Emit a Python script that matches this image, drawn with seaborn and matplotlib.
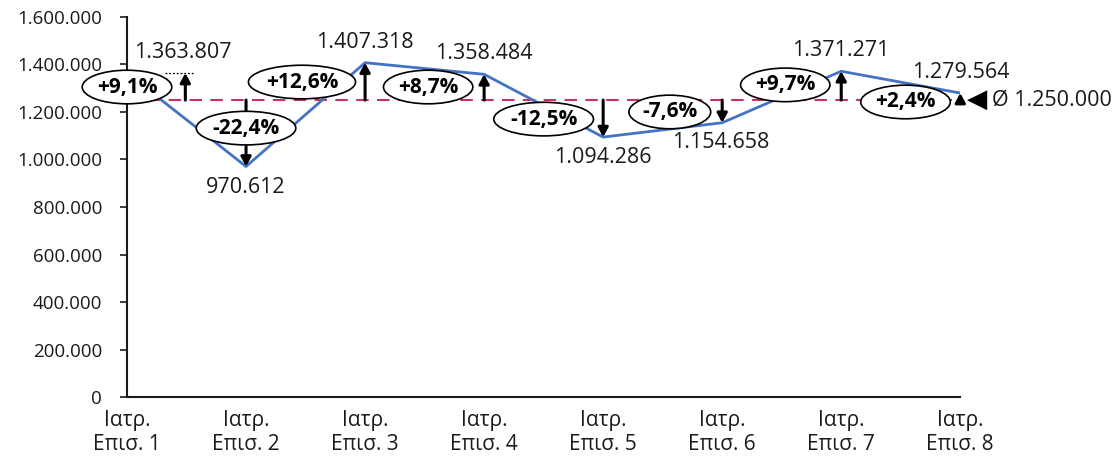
import numpy as np
import pandas as pd
import matplotlib
matplotlib.use("Agg")
import matplotlib.pyplot as plt
from matplotlib.path import Path
from matplotlib.transforms import Affine2D
from matplotlib.ticker import FuncFormatter
import seaborn as sns

# --- data -------------------------------------------------------------
categories = [f"Ιατρ.\nΕπισ. {i}" for i in range(1, 9)]
values = [1363807, 970612, 1407318, 1358484, 1094286, 1154658, 1371271, 1279564]
average = 1250000
y_ticks = [0, 200000, 400000, 600000, 800000, 1000000, 1200000, 1400000, 1600000]

# --- layout -----------------------------------------------------------
# centre of each percentage badge (x in category units, y in value units)
badge_pos = [(0.0, 1305000), (1.0, 1132000), (1.47, 1326000), (2.53, 1305000),
             (3.50, 1170000), (4.56, 1200000), (5.53, 1314000), (6.54, 1242000)]
# x of each deviation arrow (first one moved aside, next to its badge)
arrow_x = [0.49, 1, 2, 3, 4, 5, 6, 7]
# offsets (points) of the value labels relative to their data point
label_off = [(40, 14.5), (0, -15), (0, 14.5), (0, 15), (0, -14.5), (-1, -14.5), (0, 15), (0, 15)]

sns.set_style("ticks")
plt.rcParams["font.family"] = ["Open Sans", "DejaVu Sans"]
FS_Y = 13.5
FS_X = 15
FS_LBL = 15.5
FS_BADGE = 15


def wide_ellipse(x0, y0, width, height, mutation_size):
    """Ellipse around a text box, wider than tall (badge outline)."""
    rx = width * 0.74
    ry = height * 0.80
    cx, cy = x0 + width / 2, y0 + height / 2
    return Path.unit_circle().transformed(Affine2D().scale(rx, ry).translate(cx, cy))


fig = plt.figure(figsize=(11.14, 4.57), dpi=100)
ax = fig.add_axes([0.114, 0.131, 0.748, 0.832])

df = pd.DataFrame({"cat": categories, "value": values})

# average reference line
ax.plot([0, len(categories) - 1], [average, average], color="#C8325F", lw=1.5,
        dashes=(6, 4), zorder=1.5)

sns.lineplot(data=df, x="cat", y="value", ax=ax, color="#4472C4", lw=2,
             sort=False, zorder=2)

# deviation arrows from the average to each value
for xa, v in zip(arrow_x, values):
    ax.annotate("", xy=(xa, v), xytext=(xa, average),
                arrowprops=dict(arrowstyle="-|>,head_length=0.55,head_width=0.3",
                                color="black", lw=2.2, shrinkA=0, shrinkB=0),
                zorder=3)

# dotted guide from the first point to its shifted arrow
ax.plot([0.32, 0.57], [values[0], values[0]], color="black", lw=0.9,
        ls=(0, (1.5, 1.5)), zorder=3)

# value labels
for i, v in enumerate(values):
    txt = f"{v:,.0f}".replace(",", ".")
    dx, dy = label_off[i]
    ax.annotate(txt, xy=(i, v), xytext=(dx, dy), textcoords="offset points",
                ha="center", va="center", fontsize=FS_LBL, color="#1a1a1a", zorder=4)

# percentage badges
for (bx, by), v in zip(badge_pos, values):
    pct = (v / average - 1) * 100
    txt = f"{pct:+.1f}%".replace(".", ",")
    ax.text(bx, by, txt, ha="center", va="center", fontsize=FS_BADGE, fontweight="bold",
            color="black", zorder=6,
            bbox=dict(boxstyle=wide_ellipse, fc="white", ec="black", lw=1.2))

# average annotation at the right end
last = len(categories) - 1
ax.annotate("◀", xy=(last, average), xytext=(5, 0), textcoords="offset points",
            ha="left", va="center", fontsize=19, color="black",
            family="DejaVu Sans", annotation_clip=False)
ax.annotate("Ø " + f"{average:,.0f}".replace(",", "."),
            xy=(last, average), xytext=(23, 0),
            textcoords="offset points", ha="left", va="center",
            fontsize=FS_LBL, color="#1a1a1a", annotation_clip=False)

# axes
ax.set_xlim(0, last)
ax.set_ylim(0, 1600000)
ax.set_yticks(y_ticks)
ax.yaxis.set_major_formatter(FuncFormatter(lambda v, p: f"{v:,.0f}".replace(",", ".")))
ax.set_xlabel("")
ax.set_ylabel("")
ax.tick_params(axis="y", labelsize=FS_Y, length=5, width=1.2, pad=13, colors="#1a1a1a")
ax.tick_params(axis="x", labelsize=FS_X, length=0, pad=9.5, colors="#1a1a1a")
for lbl in ax.get_xticklabels():
    lbl.set_linespacing(1.15)
for s in ["top", "right"]:
    ax.spines[s].set_visible(False)
for s in ["left", "bottom"]:
    ax.spines[s].set_linewidth(1.5)
    ax.spines[s].set_color("#1a1a1a")

fig.savefig("out.png", dpi=100)
